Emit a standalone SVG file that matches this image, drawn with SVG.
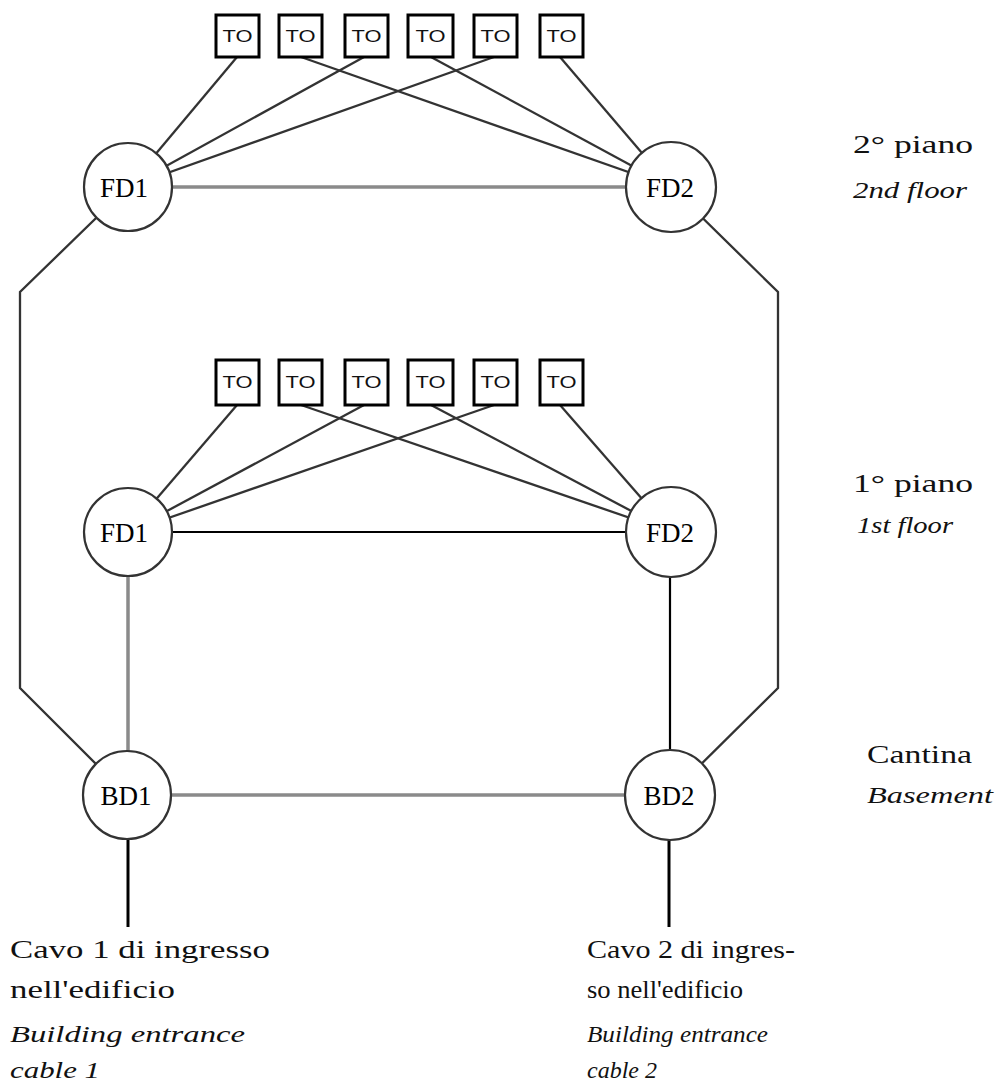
<svg xmlns="http://www.w3.org/2000/svg" width="997" height="1082" viewBox="0 0 997 1082">
<style>
.to rect{fill:#fff;stroke:#000;stroke-width:3}
.to text{font-family:"Liberation Sans",Arial,sans-serif;font-size:16px;fill:#111;text-anchor:middle}
.nd circle{fill:#fff;stroke:#333;stroke-width:2.2}
.nd text{font-family:"Liberation Serif","Times New Roman",serif;font-size:27px;fill:#000;text-anchor:middle}
.lbl{font-family:"Liberation Serif","Times New Roman",serif;font-size:26px;fill:#111}
.it{font-style:italic;font-size:23px}
.tl{stroke:#333;stroke-width:2.3;fill:none}
.gray{stroke:#8a8a8a;stroke-width:3.5;fill:none}
.blk{stroke:#000;stroke-width:2.2;fill:none}
.blk3{stroke:#000;stroke-width:3;fill:none}
</style>
<rect width="997" height="1082" fill="#fff"/>
<g id="connectors">
  <line class="tl" x1="237" y1="57" x2="128" y2="187"/>
  <line class="tl" x1="301" y1="57" x2="671" y2="187"/>
  <line class="tl" x1="364" y1="57" x2="128" y2="187"/>
  <line class="tl" x1="431" y1="57" x2="671" y2="187"/>
  <line class="tl" x1="494" y1="57" x2="128" y2="187"/>
  <line class="tl" x1="560" y1="57" x2="671" y2="187"/>
  <line class="gray" x1="128" y1="187" x2="671" y2="187"/>
  <line class="tl" x1="237" y1="405" x2="128" y2="532"/>
  <line class="tl" x1="301" y1="405" x2="671" y2="532"/>
  <line class="tl" x1="364" y1="405" x2="128" y2="532"/>
  <line class="tl" x1="431" y1="405" x2="671" y2="532"/>
  <line class="tl" x1="494" y1="405" x2="128" y2="532"/>
  <line class="tl" x1="560" y1="405" x2="671" y2="532"/>
  <line class="blk" x1="128" y1="532" x2="671" y2="532"/>
  <polyline class="tl" points="128,187 20,292 20,688 127,795"/>
  <polyline class="tl" points="671,187 778,292 778,688 670,795"/>
  <line class="gray" x1="128" y1="532" x2="128" y2="795"/>
  <line class="blk" x1="670" y1="532" x2="670" y2="795"/>
  <line class="gray" x1="127" y1="795" x2="670" y2="795"/>
  <line class="blk3" x1="128" y1="795" x2="128" y2="927"/>
  <line class="blk3" x1="669" y1="795" x2="669" y2="927"/>
</g>
<g id="to2-1" class="to"><rect x="216" y="15" width="43" height="42"/><text x="237.5" y="42" textLength="30" lengthAdjust="spacingAndGlyphs">TO</text></g>
<g id="to2-2" class="to"><rect x="279" y="15" width="43" height="42"/><text x="300.5" y="42" textLength="30" lengthAdjust="spacingAndGlyphs">TO</text></g>
<g id="to2-3" class="to"><rect x="345" y="15" width="43" height="42"/><text x="366.5" y="42" textLength="30" lengthAdjust="spacingAndGlyphs">TO</text></g>
<g id="to2-4" class="to"><rect x="408" y="15" width="45" height="42"/><text x="430.5" y="42" textLength="30" lengthAdjust="spacingAndGlyphs">TO</text></g>
<g id="to2-5" class="to"><rect x="474" y="15" width="43" height="42"/><text x="495.5" y="42" textLength="30" lengthAdjust="spacingAndGlyphs">TO</text></g>
<g id="to2-6" class="to"><rect x="540" y="15" width="43" height="42"/><text x="561.5" y="42" textLength="30" lengthAdjust="spacingAndGlyphs">TO</text></g>

<g id="to1-1" class="to"><rect x="216" y="360" width="43" height="45"/><text x="237.5" y="388" textLength="30" lengthAdjust="spacingAndGlyphs">TO</text></g>
<g id="to1-2" class="to"><rect x="279" y="360" width="43" height="45"/><text x="300.5" y="388" textLength="30" lengthAdjust="spacingAndGlyphs">TO</text></g>
<g id="to1-3" class="to"><rect x="345" y="360" width="43" height="45"/><text x="366.5" y="388" textLength="30" lengthAdjust="spacingAndGlyphs">TO</text></g>
<g id="to1-4" class="to"><rect x="408" y="360" width="45" height="45"/><text x="430.5" y="388" textLength="30" lengthAdjust="spacingAndGlyphs">TO</text></g>
<g id="to1-5" class="to"><rect x="474" y="360" width="43" height="45"/><text x="495.5" y="388" textLength="30" lengthAdjust="spacingAndGlyphs">TO</text></g>
<g id="to1-6" class="to"><rect x="540" y="360" width="43" height="45"/><text x="561.5" y="388" textLength="30" lengthAdjust="spacingAndGlyphs">TO</text></g>

<g id="fd1-2" class="nd"><circle cx="128" cy="187" r="44"/><text x="124" y="197">FD1</text></g>
<g id="fd2-2" class="nd"><circle cx="671" cy="187" r="45"/><text x="670" y="197">FD2</text></g>
<g id="fd1-1" class="nd"><circle cx="128" cy="532" r="44"/><text x="124" y="542">FD1</text></g>
<g id="fd2-1" class="nd"><circle cx="671" cy="532" r="45"/><text x="670" y="542">FD2</text></g>
<g id="bd1" class="nd"><circle cx="127" cy="795" r="44"/><text x="126" y="805">BD1</text></g>
<g id="bd2" class="nd"><circle cx="670" cy="795" r="45"/><text x="669" y="805">BD2</text></g>

<g id="labels">
  <text class="lbl" x="853" y="153" textLength="120" lengthAdjust="spacingAndGlyphs">2° piano</text>
  <text class="lbl it" x="853" y="198" textLength="114" lengthAdjust="spacingAndGlyphs">2nd floor</text>
  <text class="lbl" x="853" y="492" textLength="120" lengthAdjust="spacingAndGlyphs">1° piano</text>
  <text class="lbl it" x="857" y="533" textLength="96" lengthAdjust="spacingAndGlyphs">1st floor</text>
  <text class="lbl" x="867" y="763" textLength="105" lengthAdjust="spacingAndGlyphs">Cantina</text>
  <text class="lbl it" x="867" y="803" textLength="126" lengthAdjust="spacingAndGlyphs">Basement</text>
  <text class="lbl" x="10" y="958" textLength="260" lengthAdjust="spacingAndGlyphs">Cavo 1 di ingresso</text>
  <text class="lbl" x="10" y="998" textLength="165" lengthAdjust="spacingAndGlyphs">nell'edificio</text>
  <text class="lbl it" x="10" y="1042" textLength="235" lengthAdjust="spacingAndGlyphs">Building entrance</text>
  <text class="lbl it" x="10" y="1078" textLength="90" lengthAdjust="spacingAndGlyphs">cable 1</text>
  <text class="lbl" x="587" y="958" textLength="208" lengthAdjust="spacingAndGlyphs">Cavo 2 di ingres-</text>
  <text class="lbl" x="587" y="998" textLength="156" lengthAdjust="spacingAndGlyphs">so nell'edificio</text>
  <text class="lbl it" x="587" y="1042" textLength="181" lengthAdjust="spacingAndGlyphs">Building entrance</text>
  <text class="lbl it" x="587" y="1078" textLength="70" lengthAdjust="spacingAndGlyphs">cable 2</text>
</g>
</svg>
